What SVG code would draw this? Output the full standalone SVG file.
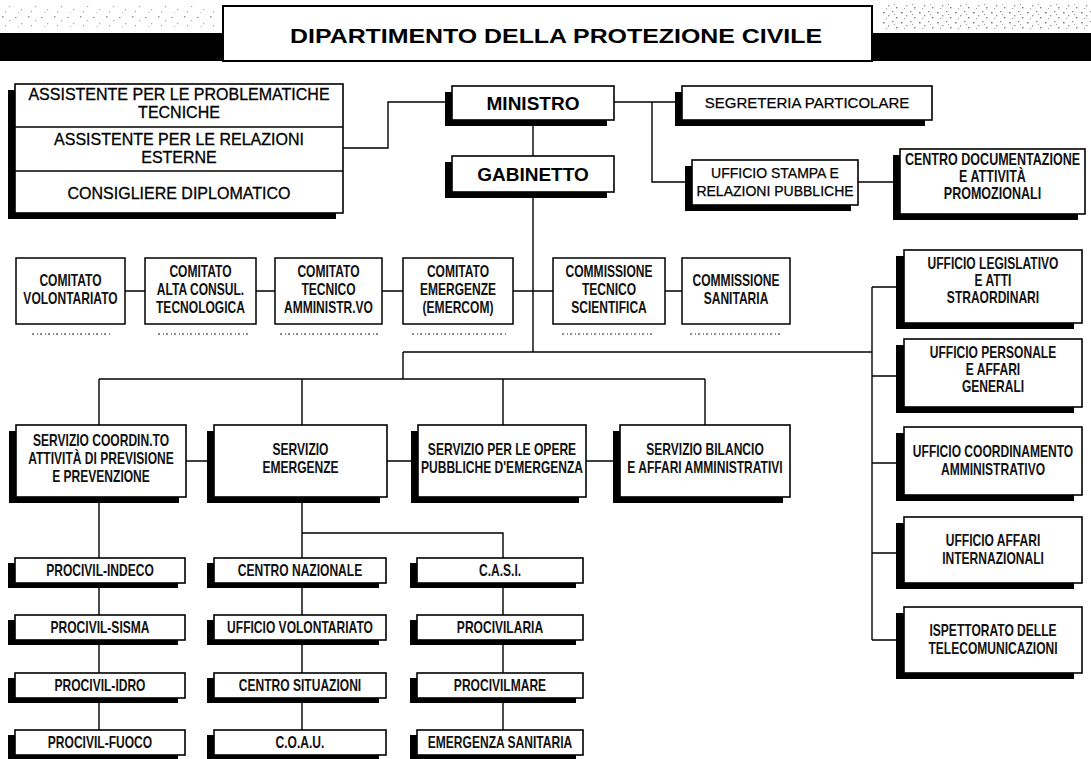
<svg xmlns="http://www.w3.org/2000/svg" width="1091" height="759" viewBox="0 0 1091 759">
<defs>
<style>
.box{fill:#fff;stroke:#000;stroke-width:1.6}
.cbox{fill:#fff;stroke:#000;stroke-width:1.5}
.sh{fill:#000}
.ln{fill:none;stroke:#000;stroke-width:1.4}
.t{font-family:"Liberation Sans",Arial,sans-serif;fill:#000;text-anchor:middle}
.big{font-size:19px;font-weight:bold}
.reg{font-size:16px;stroke:#000;stroke-width:0.3}
.mid{font-size:14px;stroke:#000;stroke-width:0.25}
.n{font-family:"Liberation Sans",Arial,sans-serif;font-weight:bold;font-size:16.5px;fill:#111;text-anchor:middle}
.spk{stroke:#666;stroke-width:1.3;stroke-dasharray:2 3 1 2}
</style>
<pattern id="noise" width="26" height="14" patternUnits="userSpaceOnUse">
<rect x="2" y="2" width="1.5" height="1.5" fill="#999"/>
<rect x="9" y="6" width="1.2" height="1.2" fill="#aaa"/>
<rect x="15" y="3" width="1.5" height="1" fill="#888"/>
<rect x="21" y="9" width="1.3" height="1.3" fill="#aaa"/>
<rect x="5" y="11" width="1" height="1.2" fill="#999"/>
<rect x="18" y="12" width="1.2" height="1" fill="#bbb"/>
</pattern>
<pattern id="noise2" width="18" height="10" patternUnits="userSpaceOnUse">
<rect x="1" y="2" width="1.6" height="1.4" fill="#777"/>
<rect x="6" y="5" width="1.4" height="1.4" fill="#999"/>
<rect x="10" y="1" width="1.5" height="1.2" fill="#888"/>
<rect x="14" y="7" width="1.4" height="1.4" fill="#777"/>
<rect x="4" y="8" width="1.2" height="1.2" fill="#aaa"/>
<rect x="12" y="4" width="1" height="1" fill="#999"/>
</pattern>
</defs>
<rect width="1091" height="759" fill="#fff"/>

<g id="header">
<rect x="0" y="4" width="215" height="26" fill="url(#noise)"/>
<rect x="880" y="4" width="211" height="26" fill="url(#noise2)"/>
<rect class="sh" x="0" y="33" width="224" height="28"/>
<rect class="sh" x="872" y="33" width="219" height="28"/>
<rect x="223" y="6" width="649" height="55" fill="#fff" stroke="#000" stroke-width="2"/>
<text class="t" x="556" y="43" font-size="21" font-weight="bold" textLength="532" lengthAdjust="spacingAndGlyphs">DIPARTIMENTO DELLA PROTEZIONE CIVILE</text>
</g>

<g id="connectors">
<path class="ln" d="M343,148 H388 V102 H452"/>
<path class="ln" d="M614,102 H682"/>
<path class="ln" d="M652,102 V182 H692"/>
<path class="ln" d="M533,120 V156"/>
<path class="ln" d="M858,182 H900"/>
<path class="ln" d="M533,192 V352"/>
<path class="ln" d="M125,291 H145 M256,291 H275 M382,291 H403 M513,291 H553 M665,291 H682"/>
<path class="ln" d="M403,352 H872"/>
<path class="ln" d="M872,287 V640"/>
<path class="ln" d="M872,287 H904 M872,376 H904 M872,463 H904 M872,553 H904 M872,640 H904"/>
<path class="ln" d="M403,352 V379"/>
<path class="ln" d="M99,379 H705"/>
<path class="ln" d="M99,379 V425 M302,379 V425 M503,379 V425 M705,379 V425"/>
<path class="ln" d="M186,461 H214 M387,461 H418 M586,461 H620"/>
<path class="ln" d="M99,497 V558 M99,583 V615 M99,640 V673 M99,698 V730"/>
<path class="ln" d="M302,497 V558 M302,583 V615 M302,640 V673 M302,698 V730"/>
<path class="ln" d="M302,533 H503 V558 M503,583 V615 M503,640 V673 M503,698 V730"/>
</g>

<g id="assistenti">
<rect class="sh" x="8" y="90" width="328" height="129"/>
<rect class="box" x="15" y="84" width="328" height="129"/>
<line class="ln" x1="15" y1="127" x2="343" y2="127"/>
<line class="ln" x1="15" y1="171" x2="343" y2="171"/>
<text class="t reg" x="179" y="100">ASSISTENTE PER LE PROBLEMATICHE</text>
<text class="t reg" x="179" y="118">TECNICHE</text>
<text class="t reg" x="179" y="145">ASSISTENTE PER LE RELAZIONI</text>
<text class="t reg" x="179" y="163">ESTERNE</text>
<text class="t reg" x="179" y="199">CONSIGLIERE DIPLOMATICO</text>
</g>

<g id="ministro">
<rect class="sh" x="445" y="92" width="162" height="34"/>
<rect class="box" x="452" y="86" width="162" height="34"/>
<text class="t big" x="533" y="110">MINISTRO</text>
</g>

<g id="segreteria">
<rect class="sh" x="675" y="92" width="250" height="34"/>
<rect class="box" x="682" y="86" width="250" height="34"/>
<text class="t" x="807" y="108" font-size="15" stroke="#000" stroke-width="0.25">SEGRETERIA PARTICOLARE</text>
</g>

<g id="gabinetto">
<rect class="sh" x="445" y="162" width="162" height="36"/>
<rect class="box" x="452" y="156" width="162" height="36"/>
<text class="t big" x="533" y="181">GABINETTO</text>
</g>

<g id="ufficio-stampa">
<rect class="sh" x="685" y="166" width="166" height="45"/>
<rect class="box" x="692" y="160" width="166" height="45"/>
<text class="t mid" x="775" y="178">UFFICIO STAMPA E</text>
<text class="t mid" x="775" y="196">RELAZIONI PUBBLICHE</text>
</g>

<g id="centro-documentazione">
<rect class="sh" x="893" y="155" width="185" height="65"/>
<rect class="box" x="900" y="149" width="185" height="65"/>
<text class="n" x="0" y="165" font-size="15" transform="translate(992.5 0) scale(0.76 1)">CENTRO DOCUMENTAZIONE</text>
<text class="n" x="0" y="182" font-size="15" transform="translate(992.5 0) scale(0.76 1)">E ATTIVITÀ</text>
<text class="n" x="0" y="199" font-size="15" transform="translate(992.5 0) scale(0.76 1)">PROMOZIONALI</text>
</g>

<g id="comitato-volontariato">
<rect class="cbox" x="16" y="258" width="109" height="66"/>
<text class="n" x="0" y="286" transform="translate(70.5 0) scale(0.73 1)">COMITATO</text>
<text class="n" x="0" y="304" transform="translate(70.5 0) scale(0.73 1)">VOLONTARIATO</text>
</g>
<g id="comitato-alta-consul">
<rect class="cbox" x="145" y="258" width="111" height="66"/>
<text class="n" x="0" y="277" transform="translate(200.5 0) scale(0.73 1)">COMITATO</text>
<text class="n" x="0" y="295" transform="translate(200.5 0) scale(0.73 1)">ALTA CONSUL.</text>
<text class="n" x="0" y="313" transform="translate(200.5 0) scale(0.73 1)">TECNOLOGICA</text>
</g>
<g id="comitato-tecnico">
<rect class="cbox" x="275" y="258" width="107" height="66"/>
<text class="n" x="0" y="277" transform="translate(328.5 0) scale(0.73 1)">COMITATO</text>
<text class="n" x="0" y="295" transform="translate(328.5 0) scale(0.73 1)">TECNICO</text>
<text class="n" x="0" y="313" transform="translate(328.5 0) scale(0.73 1)">AMMINISTR.VO</text>
</g>
<g id="comitato-emergenze">
<rect class="cbox" x="403" y="258" width="110" height="66"/>
<text class="n" x="0" y="277" transform="translate(458 0) scale(0.73 1)">COMITATO</text>
<text class="n" x="0" y="295" transform="translate(458 0) scale(0.73 1)">EMERGENZE</text>
<text class="n" x="0" y="313" transform="translate(458 0) scale(0.73 1)">(EMERCOM)</text>
</g>
<g id="commissione-tecnico">
<rect class="cbox" x="553" y="258" width="112" height="66"/>
<text class="n" x="0" y="277" transform="translate(609 0) scale(0.73 1)">COMMISSIONE</text>
<text class="n" x="0" y="295" transform="translate(609 0) scale(0.73 1)">TECNICO</text>
<text class="n" x="0" y="313" transform="translate(609 0) scale(0.73 1)">SCIENTIFICA</text>
</g>
<g id="commissione-sanitaria">
<rect class="cbox" x="682" y="258" width="108" height="66"/>
<text class="n" x="0" y="286" transform="translate(736 0) scale(0.73 1)">COMMISSIONE</text>
<text class="n" x="0" y="304" transform="translate(736 0) scale(0.73 1)">SANITARIA</text>
</g>
<g id="scan-marks">
<path class="spk" d="M32,334 H110 M158,334 H250 M280,334 H378 M412,334 H508 M562,334 H655 M690,334 H782"/>
</g>

<g id="servizio-coordinamento">
<rect class="sh" x="9" y="431" width="170" height="72"/>
<rect class="box" x="16" y="425" width="170" height="72"/>
<text class="n" x="0" y="446" transform="translate(101 0) scale(0.73 1)">SERVIZIO COORDIN.TO</text>
<text class="n" x="0" y="464" transform="translate(101 0) scale(0.73 1)">ATTIVITÀ DI PREVISIONE</text>
<text class="n" x="0" y="482" transform="translate(101 0) scale(0.73 1)">E PREVENZIONE</text>
</g>
<g id="servizio-emergenze">
<rect class="sh" x="207" y="431" width="173" height="72"/>
<rect class="box" x="214" y="425" width="173" height="72"/>
<text class="n" x="0" y="455" transform="translate(300.5 0) scale(0.73 1)">SERVIZIO</text>
<text class="n" x="0" y="473" transform="translate(300.5 0) scale(0.73 1)">EMERGENZE</text>
</g>
<g id="servizio-opere">
<rect class="sh" x="411" y="431" width="168" height="72"/>
<rect class="box" x="418" y="425" width="168" height="72"/>
<text class="n" x="0" y="455" transform="translate(502 0) scale(0.73 1)">SERVIZIO PER LE OPERE</text>
<text class="n" x="0" y="473" transform="translate(502 0) scale(0.73 1)">PUBBLICHE D'EMERGENZA</text>
</g>
<g id="servizio-bilancio">
<rect class="sh" x="613" y="431" width="170" height="72"/>
<rect class="box" x="620" y="425" width="170" height="72"/>
<text class="n" x="0" y="455" transform="translate(705 0) scale(0.73 1)">SERVIZIO BILANCIO</text>
<text class="n" x="0" y="473" transform="translate(705 0) scale(0.73 1)">E AFFARI AMMINISTRATIVI</text>
</g>

<g id="procivil-indeco"><rect class="sh" x="8" y="563" width="170" height="25"/><rect class="box" x="15" y="558" width="170" height="25"/><text class="n" x="0" y="576" transform="translate(100 0) scale(0.73 1)">PROCIVIL-INDECO</text></g>
<g id="procivil-sisma"><rect class="sh" x="8" y="620" width="170" height="25"/><rect class="box" x="15" y="615" width="170" height="25"/><text class="n" x="0" y="633" transform="translate(100 0) scale(0.73 1)">PROCIVIL-SISMA</text></g>
<g id="procivil-idro"><rect class="sh" x="8" y="678" width="170" height="25"/><rect class="box" x="15" y="673" width="170" height="25"/><text class="n" x="0" y="691" transform="translate(100 0) scale(0.73 1)">PROCIVIL-IDRO</text></g>
<g id="procivil-fuoco"><rect class="sh" x="8" y="735" width="170" height="25"/><rect class="box" x="15" y="730" width="170" height="25"/><text class="n" x="0" y="748" transform="translate(100 0) scale(0.73 1)">PROCIVIL-FUOCO</text></g>

<g id="centro-nazionale"><rect class="sh" x="207" y="563" width="172" height="25"/><rect class="box" x="214" y="558" width="172" height="25"/><text class="n" x="0" y="576" transform="translate(300 0) scale(0.73 1)">CENTRO NAZIONALE</text></g>
<g id="ufficio-volontariato"><rect class="sh" x="207" y="620" width="172" height="25"/><rect class="box" x="214" y="615" width="172" height="25"/><text class="n" x="0" y="633" transform="translate(300 0) scale(0.73 1)">UFFICIO VOLONTARIATO</text></g>
<g id="centro-situazioni"><rect class="sh" x="207" y="678" width="172" height="25"/><rect class="box" x="214" y="673" width="172" height="25"/><text class="n" x="0" y="691" transform="translate(300 0) scale(0.73 1)">CENTRO SITUAZIONI</text></g>
<g id="coau"><rect class="sh" x="207" y="735" width="172" height="25"/><rect class="box" x="214" y="730" width="172" height="25"/><text class="n" x="0" y="748" transform="translate(300 0) scale(0.73 1)">C.O.A.U.</text></g>

<g id="casi"><rect class="sh" x="410" y="563" width="166" height="25"/><rect class="box" x="417" y="558" width="166" height="25"/><text class="n" x="0" y="576" transform="translate(500 0) scale(0.73 1)">C.A.S.I.</text></g>
<g id="procivilaria"><rect class="sh" x="410" y="620" width="166" height="25"/><rect class="box" x="417" y="615" width="166" height="25"/><text class="n" x="0" y="633" transform="translate(500 0) scale(0.73 1)">PROCIVILARIA</text></g>
<g id="procivilmare"><rect class="sh" x="410" y="678" width="166" height="25"/><rect class="box" x="417" y="673" width="166" height="25"/><text class="n" x="0" y="691" transform="translate(500 0) scale(0.73 1)">PROCIVILMARE</text></g>
<g id="emergenza-sanitaria"><rect class="sh" x="410" y="735" width="166" height="25"/><rect class="box" x="417" y="730" width="166" height="25"/><text class="n" x="0" y="748" transform="translate(500 0) scale(0.73 1)">EMERGENZA SANITARIA</text></g>

<g id="ufficio-legislativo">
<rect class="sh" x="896" y="256" width="178" height="73"/>
<rect class="box" x="904" y="250" width="178" height="73"/>
<text class="n" x="0" y="269" transform="translate(993 0) scale(0.73 1)">UFFICIO LEGISLATIVO</text>
<text class="n" x="0" y="286" transform="translate(993 0) scale(0.73 1)">E ATTI</text>
<text class="n" x="0" y="303" transform="translate(993 0) scale(0.73 1)">STRAORDINARI</text>
</g>
<g id="ufficio-personale">
<rect class="sh" x="896" y="345" width="178" height="68"/>
<rect class="box" x="904" y="339" width="178" height="68"/>
<text class="n" x="0" y="358" transform="translate(993 0) scale(0.73 1)">UFFICIO PERSONALE</text>
<text class="n" x="0" y="375" transform="translate(993 0) scale(0.73 1)">E AFFARI</text>
<text class="n" x="0" y="392" transform="translate(993 0) scale(0.73 1)">GENERALI</text>
</g>
<g id="ufficio-coordinamento">
<rect class="sh" x="896" y="433" width="178" height="68"/>
<rect class="box" x="904" y="427" width="178" height="68"/>
<text class="n" x="0" y="457" transform="translate(993 0) scale(0.73 1)">UFFICIO COORDINAMENTO</text>
<text class="n" x="0" y="475" transform="translate(993 0) scale(0.73 1)">AMMINISTRATIVO</text>
</g>
<g id="ufficio-affari-internazionali">
<rect class="sh" x="896" y="523" width="178" height="66"/>
<rect class="box" x="904" y="517" width="178" height="66"/>
<text class="n" x="0" y="546" transform="translate(993 0) scale(0.73 1)">UFFICIO AFFARI</text>
<text class="n" x="0" y="564" transform="translate(993 0) scale(0.73 1)">INTERNAZIONALI</text>
</g>
<g id="ispettorato">
<rect class="sh" x="896" y="613" width="178" height="66"/>
<rect class="box" x="904" y="607" width="178" height="66"/>
<text class="n" x="0" y="636" transform="translate(993 0) scale(0.73 1)">ISPETTORATO DELLE</text>
<text class="n" x="0" y="654" transform="translate(993 0) scale(0.73 1)">TELECOMUNICAZIONI</text>
</g>
</svg>
